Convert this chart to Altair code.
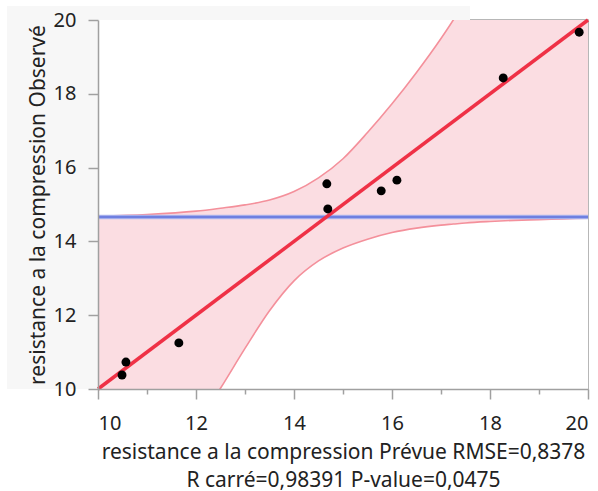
import altair as alt
import pandas as pd

# --- data ---
pred = [10.49, 10.57, 11.65, 14.67, 14.69, 15.78, 16.10, 18.27, 19.82]
obs = [10.38, 10.73, 11.25, 15.56, 14.88, 15.37, 15.66, 18.43, 19.67]

mean_y = 14.66
fit_x = [10, 20]
fit_y = [10, 20]

band_x = [10, 11, 12, 12.5, 13, 13.5, 14, 14.5, 15, 15.5, 16, 16.5, 17, 17.25, 17.5, 18, 18.5, 19, 19.5, 20]
band_hi = [14.69, 14.73, 14.82, 14.90, 14.99, 15.12, 15.35, 15.72, 16.24, 16.95, 17.73, 18.58, 19.5, 20.0, 20.55, 21.6, 22.65, 23.7, 24.75, 25.8]
band_lo = [4.9, 7.0, 9.0, 10.02, 11.1, 12.12, 12.93, 13.47, 13.82, 14.06, 14.24, 14.36, 14.44, 14.47, 14.50, 14.54, 14.57, 14.59, 14.61, 14.63]

ticks = [10, 11, 12, 13, 14, 15, 16, 17, 18, 19, 20]

x_title = ["resistance a la compression Prévue RMSE=0,8378", "R carré=0,98391 P-value=0,0475"]
y_title = "resistance a la compression Observé"

FONT = "Noto Sans"
TXT = "#222222"
W, H = 490, 369

pts = pd.DataFrame({"x": pred, "y": obs})
band = pd.DataFrame({"x": band_x, "hi": band_hi, "lo": band_lo})
fit = pd.DataFrame({"x": fit_x, "y": fit_y})
mean = pd.DataFrame({"x": [10, 20], "y": [mean_y, mean_y]})

xs = alt.Scale(domain=[10, 20], nice=False, zero=False)
ys = alt.Scale(domain=[10, 20], nice=False, zero=False)

tick_cond = {"condition": {"test": "datum.value % 2 == 1", "value": 5}, "value": 10}

x_axis = alt.Axis(
    values=ticks, labelExpr="datum.value % 2 == 1 ? '' : datum.label",
    tickSize=tick_cond, tickColor="#a0a0a0", tickWidth=1.5,
    domainColor="#a0a0a0", domainWidth=1.5,
    labelFont=FONT, labelFontSize=20, labelColor=TXT, labelPadding=14,
    title=x_title, titleFont=FONT, titleFontSize=21, titleFontWeight="normal",
    titleColor=TXT, titleLineHeight=28, titlePadding=8, grid=False, zindex=2,
)
y_axis = alt.Axis(
    values=ticks, labelExpr="datum.value % 2 == 1 ? '' : datum.label",
    tickSize=tick_cond, tickColor="#a0a0a0", tickWidth=1.5,
    domainColor="#a0a0a0", domainWidth=1.5,
    labelFont=FONT, labelFontSize=20, labelColor=TXT, labelPadding=12,
    title=y_title, titleFont=FONT, titleFontSize=21, titleFontWeight="normal",
    titleColor=TXT, titlePadding=5, grid=False, zindex=2,
)

one = alt.Data(values=[{}])
gray = alt.Chart(one).mark_rect(color="#f7f7f7").encode(
    x=alt.value(-91), x2=alt.value(372), y=alt.value(-14), y2=alt.value(H)
)
white = alt.Chart(one).mark_rect(color="white").encode(
    x=alt.value(0), x2=alt.value(W), y=alt.value(0), y2=alt.value(H)
)

area = alt.Chart(band).mark_area(color="#fbdde2", interpolate="monotone", clip=True).encode(
    x=alt.X("x:Q", scale=xs, axis=x_axis),
    y=alt.Y("lo:Q", scale=ys, axis=y_axis),
    y2="hi:Q",
)
up_line = alt.Chart(band).mark_line(color="#f4909b", strokeWidth=1.6, interpolate="monotone", clip=True).encode(
    x=alt.X("x:Q", scale=xs), y=alt.Y("hi:Q", scale=ys)
)
lo_line = alt.Chart(band).mark_line(color="#f4909b", strokeWidth=1.6, interpolate="monotone", clip=True).encode(
    x=alt.X("x:Q", scale=xs), y=alt.Y("lo:Q", scale=ys)
)
mean_halo = alt.Chart(mean).mark_line(color="#b5bcf0", strokeWidth=4.5).encode(
    x=alt.X("x:Q", scale=xs), y=alt.Y("y:Q", scale=ys)
)
mean_line = alt.Chart(mean).mark_line(color="#6f7fe0", strokeWidth=2.5).encode(
    x=alt.X("x:Q", scale=xs), y=alt.Y("y:Q", scale=ys)
)
fit_line = alt.Chart(fit).mark_line(color="#ef3146", strokeWidth=3.5).encode(
    x=alt.X("x:Q", scale=xs), y=alt.Y("y:Q", scale=ys)
)
points = alt.Chart(pts).mark_circle(color="black", size=80, opacity=1).encode(
    x=alt.X("x:Q", scale=xs), y=alt.Y("y:Q", scale=ys)
)

chart = alt.layer(
    gray, white, area, up_line, lo_line, mean_halo, mean_line, fit_line, points
).properties(
    width=W, height=H,
    autosize=alt.AutoSizeParams(type="none"),
    padding={"left": 98, "top": 20, "right": 10, "bottom": 102},
    background="white",
).configure_view(stroke="#a0a0a0", strokeWidth=1.5)

chart.save("out.html", embed_options={"renderer": "svg", "actions": False})
